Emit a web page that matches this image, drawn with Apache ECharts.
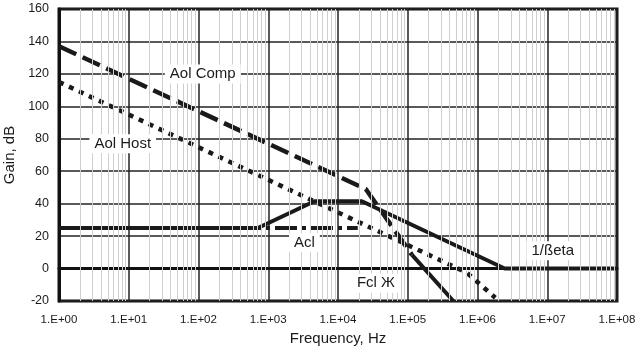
<!DOCTYPE html>
<html>
<head>
<meta charset="utf-8">
<script src="https://cdn.jsdelivr.net/npm/echarts@6/dist/echarts.min.js"></script>
<style>
  html, body { margin: 0; padding: 0; background: #fff; }
  #chart { width: 635px; height: 350px; }
</style>
</head>
<body>
<div id="chart"></div>
<script>
// frequency (Hz) / gain (dB) corner points
const freqAolComp = [1, 2.5e4, 1.15e5];
const gainAolComp = [137, 49, 8.4];
const freqAolCompTail = [1.15e5, 4.5e5];
const gainAolCompTail = [8.4, -20];
const freqAolHost = [1, 7e5, 1.8e6];
const gainAolHost = [115, -2.5, -18];
const freqBeta = [1, 710, 4.6e3, 2.2e4, 2.45e6, 1e8];
const gainBeta = [25, 25, 41.5, 41.5, 0, 0];
const freqAcl = [1, 1.92e4];
const gainAcl = [25, 25];
const gainTicks = [-20, 0, 20, 40, 60, 80, 100, 120, 140, 160];

const pairs = (xs, ys) => xs.map((x, i) => [x, ys[i]]);

// light log minor grid (2..9 in each decade)
const minorLines = [];
for (let d = 0; d < 8; d++) {
  for (let m = 2; m <= 9; m++) {
    minorLines.push({ xAxis: m * Math.pow(10, d) });
  }
}

const font = "'Liberation Sans', Arial, sans-serif";
const ink = "#1a1a1a";

function tag(text, coord) {
  return {
    coord: coord,
    symbol: "rect",
    symbolSize: 0,
    label: {
      show: true,
      position: "inside",
      formatter: text,
      color: ink,
      fontFamily: font,
      fontSize: 15,
      backgroundColor: "#fff",
      padding: [2, 5],
    },
  };
}

const chart = echarts.init(document.getElementById("chart"));
chart.setOption({
  animation: false,
  backgroundColor: "#fff",
  grid: {
    left: 59,
    right: 18,
    top: 9,
    bottom: 49,
    outerBoundsMode: "none",
    containLabel: false,
    show: true,
    borderColor: "#111",
    borderWidth: 3,
  },
  xAxis: {
    type: "log",
    logBase: 10,
    min: 1,
    max: 1e8,
    name: "Frequency, Hz",
    nameLocation: "middle",
    nameGap: 28,
    nameTextStyle: { fontFamily: font, fontSize: 15, color: ink },
    axisLine: { show: true, lineStyle: { color: "#111", width: 3 } },
    axisTick: { show: false },
    axisLabel: {
      fontFamily: font,
      fontSize: 11.5,
      color: ink,
      margin: 13,
      formatter: (v) => {
        const e = Math.round(Math.log10(v));
        return "1.E+" + (e < 10 ? "0" + e : e);
      },
    },
    splitLine: { show: true, lineStyle: { color: "#222", width: 1.5 } },
  },
  yAxis: {
    type: "value",
    min: gainTicks[0],
    max: gainTicks[gainTicks.length - 1],
    interval: 20,
    name: "Gain, dB",
    nameLocation: "middle",
    nameGap: 33,
    nameTextStyle: { fontFamily: font, fontSize: 15, color: ink },
    axisLine: { show: true, lineStyle: { color: "#111", width: 3 } },
    axisTick: { show: false },
    axisLabel: { fontFamily: font, fontSize: 12.5, color: ink, margin: 10 },
    splitLine: { show: true, lineStyle: { color: "#222", width: 1.5 } },
  },
  series: [
    {
      name: "grid",
      type: "line",
      data: [],
      silent: true,
      z: 1,
      markLine: {
        silent: true,
        symbol: "none",
        label: { show: false },
        lineStyle: { color: "#cfcfcf", width: 1, type: "solid" },
        data: minorLines,
      },
    },
    {
      name: "Acl",
      type: "line",
      data: pairs(freqAcl, gainAcl),
      showSymbol: false,
      lineStyle: { color: ink, width: 4, type: [22, 5, 4, 5], cap: "butt" },
      markPoint: { silent: true, data: [tag("Acl", [3.3e3, 16])] },
    },
    {
      name: "1/Beta",
      type: "line",
      data: pairs(freqBeta, gainBeta),
      showSymbol: false,
      lineStyle: { color: ink, width: 4 },
      markPoint: {
        silent: true,
        data: [tag("1/ßeta", [1.2e7, 11]), tag("Fcl Ж", [3.5e4, -9])],
      },
    },
    {
      name: "Aol Host",
      type: "line",
      data: pairs(freqAolHost, gainAolHost),
      showSymbol: false,
      lineStyle: { color: ink, width: 4.5, type: [5, 6], cap: "butt" },
      markPoint: { silent: true, data: [tag("Aol Host", [8.2, 77])] },
    },
    {
      name: "Aol Comp",
      type: "line",
      data: pairs(freqAolComp, gainAolComp),
      showSymbol: false,
      lineStyle: { color: ink, width: 4.5, type: [19, 7], cap: "butt" },
      markPoint: { silent: true, data: [tag("Aol Comp", [115, 120])] },
    },
    {
      name: "Aol Comp tail",
      type: "line",
      data: pairs(freqAolCompTail, gainAolCompTail),
      showSymbol: false,
      lineStyle: { color: ink, width: 4 },
    },
  ],
});
</script>
</body>
</html>
